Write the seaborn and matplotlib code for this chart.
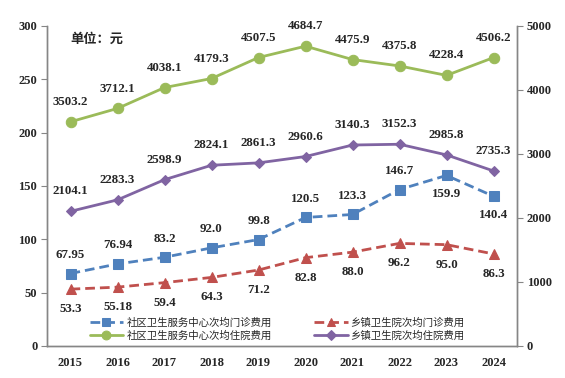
import matplotlib
matplotlib.use("Agg")
import matplotlib.pyplot as plt
import seaborn as sns
import pandas as pd
from matplotlib.ticker import FixedLocator, MultipleLocator

# data (元)
years = ["2015", "2016", "2017", "2018", "2019", "2020", "2021", "2022", "2023", "2024"]
comm_outpatient = [67.95, 76.94, 83.2, 92.0, 99.8, 120.5, 123.3, 146.7, 159.9, 140.4]
town_outpatient = [53.3, 55.18, 59.4, 64.3, 71.2, 82.8, 88.0, 96.2, 95.0, 86.3]
comm_inpatient = [3503.2, 3712.1, 4038.1, 4179.3, 4507.5, 4684.7, 4475.9, 4375.8, 4228.4, 4506.2]
town_inpatient = [2104.1, 2283.3, 2598.9, 2824.1, 2861.3, 2960.6, 3140.3, 3152.3, 2985.8, 2735.3]
comm_outpatient_lbl = ["67.95", "76.94", "83.2", "92.0", "99.8", "120.5", "123.3", "146.7", "159.9", "140.4"]
town_outpatient_lbl = ["53.3", "55.18", "59.4", "64.3", "71.2", "82.8", "88.0", "96.2", "95.0", "86.3"]
# community outpatient labels that sit under the point
below_idx = [8, 9]

names = ["社区卫生服务中心次均门诊费用", "社区卫生服务中心次均住院费用",
         "乡镇卫生院次均门诊费用", "乡镇卫生院次均住院费用"]

sns.set_style("white")
plt.rcParams["font.family"] = ["Liberation Serif", "Noto Sans CJK SC", "DejaVu Sans"]

blue, red, green, purple = "#4F81BD", "#C0504D", "#9BBB59", "#8064A2"
num_font = dict(family=["Liberation Serif"], weight="bold", size=9.3)

fig = plt.figure(figsize=(5.65, 3.78), dpi=100)
ax = fig.add_axes([47 / 565, 32 / 378, 470 / 565, 320 / 378])
ax2 = ax.twinx()

df = pd.DataFrame({"year": years, "co": comm_outpatient, "to": town_outpatient,
                   "ci": comm_inpatient, "ti": town_inpatient})

sns.lineplot(data=df, x="year", y="co", ax=ax, color=blue, marker="s", markersize=7,
             markeredgecolor=blue, linewidth=2, linestyle=(0, (3.5, 1.8)),
             label=names[0], legend=False)
sns.lineplot(data=df, x="year", y="to", ax=ax, color=red, marker="^", markersize=7.5,
             markeredgecolor=red, linewidth=2, linestyle=(0, (3.5, 1.8)),
             label=names[2], legend=False)
sns.lineplot(data=df, x="year", y="ci", ax=ax2, color=green, marker="o", markersize=7.5,
             markeredgecolor=green, linewidth=2, label=names[1], legend=False)
sns.lineplot(data=df, x="year", y="ti", ax=ax2, color=purple, marker="D", markersize=5.5,
             markeredgecolor=purple, linewidth=2, label=names[3], legend=False)

# data labels
for i in range(len(years)):
    if i in below_idx:
        ax.annotate(comm_outpatient_lbl[i], (i, comm_outpatient[i]), xytext=(0, -9),
                    textcoords="offset points", ha="center", va="top", **num_font)
    else:
        ax.annotate(comm_outpatient_lbl[i], (i, comm_outpatient[i]), xytext=(0, 9),
                    textcoords="offset points", ha="center", va="bottom", **num_font)
    ax.annotate(town_outpatient_lbl[i], (i, town_outpatient[i]), xytext=(0, -10),
                textcoords="offset points", ha="center", va="top", **num_font)
    ax2.annotate(f"{comm_inpatient[i]:.1f}", (i, comm_inpatient[i]), xytext=(0, 10),
                 textcoords="offset points", ha="center", va="bottom", **num_font)
    ax2.annotate(f"{town_inpatient[i]:.1f}", (i, town_inpatient[i]), xytext=(0, 10),
                 textcoords="offset points", ha="center", va="bottom", **num_font)

ax.set_xlim(-0.5, len(years) - 0.5)
ax.set_ylim(0, 300)
ax2.set_ylim(0, 5000)
ax.yaxis.set_major_locator(MultipleLocator(50))
ax2.yaxis.set_major_locator(MultipleLocator(1000))
ax.xaxis.set_minor_locator(FixedLocator([i - 0.5 for i in range(len(years) + 1)]))
ax.set_xlabel("")
ax.set_ylabel("")
ax2.set_ylabel("")

for a in (ax, ax2):
    for side in a.spines:
        a.spines[side].set_color("#868686")
        a.spines[side].set_linewidth(1)
    a.spines["top"].set_visible(False)
    for lbl in a.get_xticklabels() + a.get_yticklabels():
        lbl.set_fontfamily("Liberation Serif")
        lbl.set_fontweight("bold")
        lbl.set_fontsize(9)

ax.tick_params(axis="x", which="major", length=0, pad=8)
ax.tick_params(axis="x", which="minor", length=4, color="#868686", direction="out")
ax.tick_params(axis="y", length=4, color="#868686", direction="out", left=True, pad=3)
ax2.tick_params(axis="y", length=4, color="#868686", direction="out", right=True, pad=3)

ax.text(0.05, 0.96, "单位：元", transform=ax.transAxes, fontsize=9.5, fontweight="bold",
        family=["Noto Sans CJK SC"], ha="left", va="center")

h1, l1 = ax.get_legend_handles_labels()
h2, l2 = ax2.get_legend_handles_labels()
handles = [h1[0], h2[0], h1[1], h2[1]]
labels = [names[0], names[1], names[2], names[3]]
ax.legend(handles, labels, ncol=2, loc="lower center", bbox_to_anchor=(0.49, -0.012),
          frameon=False, prop={"family": ["Noto Sans CJK SC"], "size": 7.5},
          handlelength=3.2, columnspacing=4.1, labelspacing=0.25, handletextpad=0.3,
          markerscale=0.85)

fig.savefig("out.png", dpi=100)
